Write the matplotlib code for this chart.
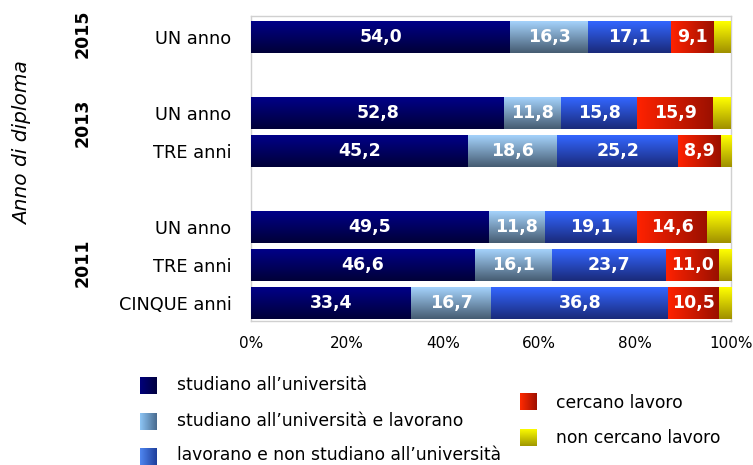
import numpy as np
import matplotlib
matplotlib.use("Agg")
import matplotlib.pyplot as plt
from matplotlib.colors import LinearSegmentedColormap

plt.rcParams['font.family'] = ['DejaVu Sans']

row_labels = ["UN anno", "", "UN anno", "TRE anni", "", "UN anno", "TRE anni", "CINQUE anni"]
year_labels = ["2015", "2013", "2011"]
series_names = ["studiano all\u2019università",
                "studiano all\u2019università e lavorano",
                "lavorano e non studiano all\u2019università",
                "cercano lavoro",
                "non cercano lavoro"]
studiano = [54.0, None, 52.8, 45.2, None, 49.5, 46.6, 33.4]
stud_lav = [16.3, None, 11.8, 18.6, None, 11.8, 16.1, 16.7]
lavorano = [17.1, None, 15.8, 25.2, None, 19.1, 23.7, 36.8]
cercano = [9.1, None, 15.9, 8.9, None, 14.6, 11.0, 10.5]
non_cercano = [3.5, None, 3.7, 2.1, None, 5.0, 2.6, 2.6]
xticks = [0, 20, 40, 60, 80, 100]

series = [studiano, stud_lav, lavorano, cercano, non_cercano]
grads = [("#000088", "#000038", "v"),
         ("#a4d2fb", "#465c72", "v"),
         ("#3366ff", "#1a2a7a", "v"),
         ("#ff2200", "#9a1000", "h"),
         ("#ffff00", "#a09000", "v")]
legend_grads = [("#00007a", "#000040", "h"),
                ("#8cc4f4", "#4a6c90", "h"),
                ("#4f86f0", "#1f3f9c", "h"),
                ("#ff2a00", "#a01000", "h"),
                ("#ffff00", "#a09800", "v")]
labelled = [True, True, True, True, False]

W, H = 753, 465
fig = plt.figure(figsize=(W / 100, H / 100), dpi=100)
ax = fig.add_axes([251 / W, 1 - 321 / H, (731 - 251) / W, (321 - 16) / H])

bar_h = 0.84
for i in range(len(row_labels)):
    if studiano[i] is None:
        continue
    left = 0.0
    for s, vals in enumerate(series):
        v = vals[i]
        c1, c2, d = grads[s]
        cmap = LinearSegmentedColormap.from_list("g%d" % s, [c1, c2])
        rect = ax.barh(i, v, left=left, height=bar_h, color=c1, edgecolor='none', zorder=2)[0]
        if d == "v":
            arr = np.linspace(0, 1, 64).reshape(-1, 1)
        else:
            arr = np.linspace(0, 1, 64).reshape(1, -1)
        extent = [left, left + v, i + bar_h / 2, i - bar_h / 2]
        im = ax.imshow(arr, extent=extent, origin='upper', aspect='auto', cmap=cmap,
                       interpolation='bilinear', zorder=3)
        im.set_clip_path(rect)
        if labelled[s]:
            ax.text(left + v / 2, i, ("%.1f" % v).replace(".", ","), ha='center', va='center',
                    color='white', fontsize=12.5, fontweight='bold', zorder=5)
        left += v

ax.set_xlim(0, 100)
ax.set_ylim(7.47, -0.55)
ax.set_aspect('auto')
ax.set_xticks(xticks)
ax.set_xticklabels(["%d%%" % t for t in xticks], fontsize=11)
ax.tick_params(axis='x', length=0, pad=11)
ax.set_yticks(range(len(row_labels)))
ax.set_yticklabels(row_labels, fontsize=12.8)
ax.tick_params(axis='y', length=0, pad=14)
for sp in ax.spines.values():
    sp.set_color("#d0d0d0")
    sp.set_linewidth(1.0)

year_pos = [(83, 34), (83, 123), (83, 263)]
for (x, y), t in zip(year_pos, year_labels):
    fig.text(x / W, 1 - y / H, t, rotation=90, ha='center', va='center',
             fontsize=12.5, fontweight='bold')
fig.text(23 / W, 1 - 143 / H, "Anno di diploma", rotation=90, ha='center', va='center',
         fontsize=14.5, style='italic')

leg_pos = [(140, 377, 177, 385), (140, 413, 177, 421), (140, 448, 177, 455),
           (520, 393, 556, 403), (520, 429, 556, 438)]
for (mx, my, tx, ty), name, (c1, c2, d) in zip(leg_pos, series_names, legend_grads):
    mw, mh = 17, 17
    lax = fig.add_axes([mx / W, 1 - (my + mh) / H, mw / W, mh / H])
    cmap = LinearSegmentedColormap.from_list("lg", [c1, c2])
    if d == "v":
        arr = np.linspace(0, 1, 32).reshape(-1, 1)
    else:
        arr = np.linspace(0, 1, 32).reshape(1, -1)
    lax.imshow(arr, cmap=cmap, aspect='auto', interpolation='bilinear')
    lax.axis('off')
    fig.text(tx / W, 1 - ty / H, name, ha='left', va='center', fontsize=12.3)

fig.savefig("out.png", dpi=100)
